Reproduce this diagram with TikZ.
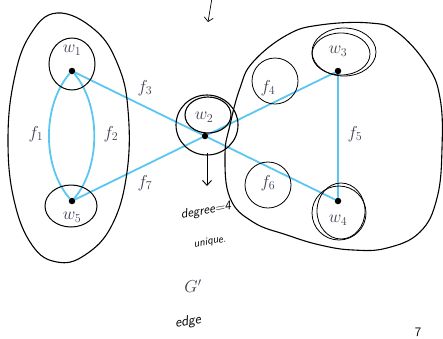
\documentclass[tikz,border=0pt]{standalone}
\usetikzlibrary{arrows.meta}
\definecolor{edgeblue}{HTML}{5CC6F2}
\definecolor{labelgray}{HTML}{3E3E4E}
\tikzset{
  vtx/.style={circle,fill=black,inner sep=0pt,minimum size=6.5pt},
  lbl/.style={text=labelgray,font=\fontsize{18}{20}\selectfont,inner sep=0pt},
  gedge/.style={edgeblue,line width=1.8pt},
  ink/.style={black,line width=1.1pt},
  hand/.style={inner sep=0pt},
}
\begin{document}
\begin{tikzpicture}[x=1pt,y=-1pt]
\useasboundingbox (0,0) rectangle (443,338);
% vertices
\node[vtx] (w1) at (72,71) {};
\node[vtx] (w5) at (72,201) {};
\node[vtx] (w2) at (205,136) {};
\node[vtx] (w3) at (338,71) {};
\node[vtx] (w4) at (338,201) {};
% edges
\draw[gedge] (w1) .. controls (42,105) and (42,167) .. (w5);
\draw[gedge] (w1) .. controls (101,105) and (101,167) .. (w5);
\draw[gedge] (w1) -- (w2);
\draw[gedge] (w5) -- (w2);
\draw[gedge] (w2) -- (w3);
\draw[gedge] (w2) -- (w4);
\draw[gedge] (w3) -- (w4);
% labels
\node[lbl] (lw1) at (72,50) {$w_1$};
\node[lbl] (lw5) at (72,217) {$w_5$};
\node[lbl] (lw2) at (204,117) {$w_2$};
\node[lbl] (lw3) at (338,51) {$w_3$};
\node[lbl] (lw4) at (338,220) {$w_4$};
\node[lbl] (lf1) at (36,134) {$f_1$};
\node[lbl] (lf2) at (111,134) {$f_2$};
\node[lbl] (lf3) at (145,88) {$f_3$};
\node[lbl] (lf7) at (145,183) {$f_7$};
\node[lbl] (lf4) at (268,88) {$f_4$};
\node[lbl] (lf6) at (268,183) {$f_6$};
\node[lbl] (lf5) at (355,134) {$f_5$};
\node[lbl] (lG) at (193,286) {$G'$};
% hand-drawn outlines
\draw[ink] plot[smooth cycle,tension=0.7] coordinates {(57,13) (95,30) (118,65) (128,110) (127,172) (112,225) (85,255) (57,262) (32,245) (14,200) (8,140) (14,80) (30,35)};
\draw[ink] plot[smooth cycle,tension=0.7] coordinates {(253,62) (287,35) (320,25) (370,23) (397,32) (427,65) (440,98) (442,148) (437,198) (420,232) (387,248) (353,250) (320,245) (287,235) (253,222) (230,198) (225,155) (230,125) (240,88)};
\draw[ink,line width=1pt] (72,64) ellipse [x radius=23,y radius=26];
\draw[ink,line width=1pt] (71,206) ellipse [x radius=26,y radius=21];
\draw[ink] (208,115) ellipse [x radius=23,y radius=18];
\draw[ink] (207,125) ellipse [x radius=31,y radius=30];
\draw[ink,line width=0.8pt] (275,81) ellipse [x radius=23,y radius=23];
\draw[ink,line width=0.8pt] (268,185) ellipse [x radius=23,y radius=23];
\draw[ink,line width=0.8pt] (344,52) ellipse [x radius=32,y radius=24];
\draw[ink,line width=0.8pt] (341,54) ellipse [x radius=29,y radius=21];
\draw[ink,line width=0.8pt] (339,213) ellipse [x radius=27,y radius=27];
\draw[ink,line width=0.8pt] (341,211) ellipse [x radius=24,y radius=28];
% arrows
\coordinate (a1) at (207,153);
\coordinate (a2) at (207,186);
\draw[ink,line width=0.9pt,-{Straight Barb[length=5pt,width=9pt]}] (a1) -- (a2);
\coordinate (t1) at (212,-2);
\coordinate (t2) at (208,22);
\draw[black,line width=0.7pt,-{Straight Barb[length=4pt,width=9pt]}] (t1) -- (t2);
% handwritten notes
\node[hand,font=\sffamily\itshape\fontsize{13}{14}\selectfont,rotate=10] (deg) at (206,211) {degree=4};
\node[hand,font=\sffamily\itshape\fontsize{11}{12}\selectfont,rotate=10] (uniq) at (210,242) {unique.};
\node[hand,font=\sffamily\itshape\fontsize{14}{15}\selectfont,rotate=10] (edge) at (188,322) {edge};
\node[hand,font=\sffamily\fontsize{13}{14}\selectfont] (seven) at (418,332) {7};
\end{tikzpicture}
\end{document}
